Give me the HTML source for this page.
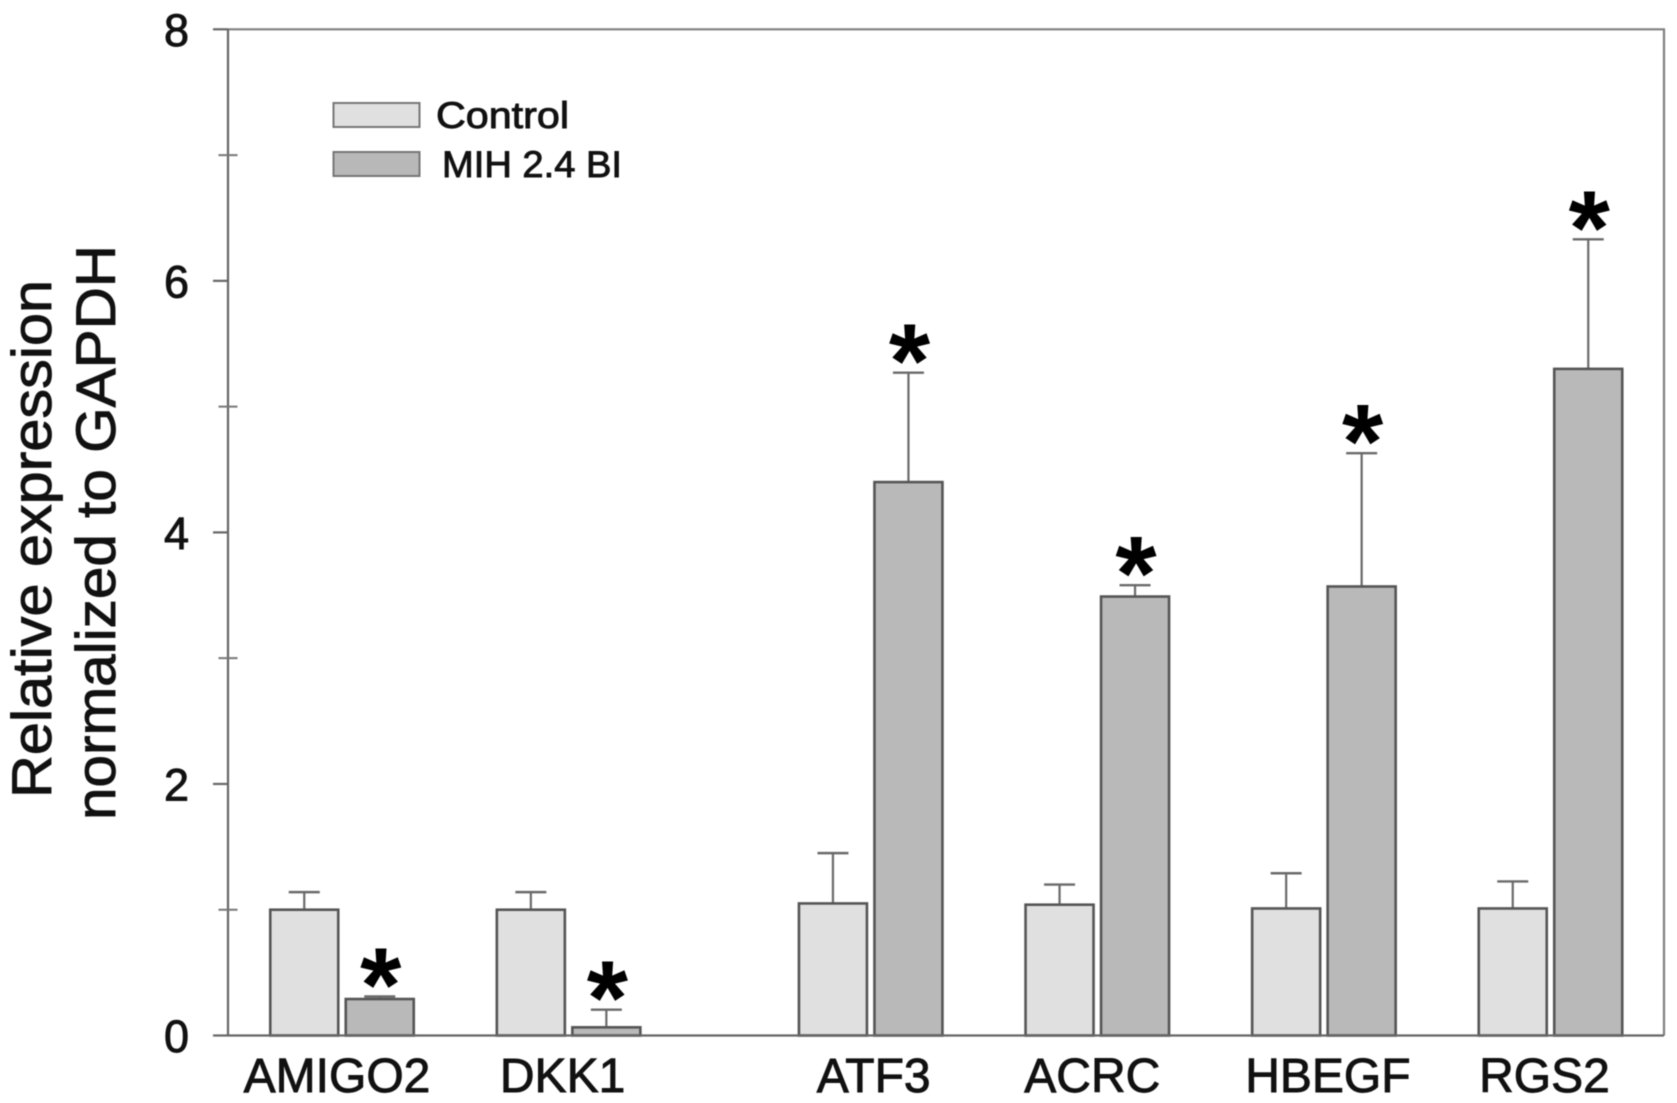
<!DOCTYPE html>
<html lang="en">
<head>
<meta charset="utf-8">
<title>Relative expression normalized to GAPDH</title>
<style>
html,body{margin:0;padding:0;background:#fff;width:1677px;height:1103px;overflow:hidden}
svg{display:block;filter:blur(0.6px)}
text{font-family:"Liberation Sans",Arial,sans-serif;fill:#111;stroke:#111;stroke-width:0.9px}
</style>
</head>
<body>
<svg id="chart" xmlns="http://www.w3.org/2000/svg" width="1677" height="1103" viewBox="0 0 1677 1103">
  <rect x="0" y="0" width="1677" height="1103" fill="#ffffff"/>
  <g font-size="56">
    <text transform="translate(51,798) rotate(-90)" textLength="518" lengthAdjust="spacingAndGlyphs">Relative expression</text>
    <text transform="translate(115,820) rotate(-90)" textLength="575" lengthAdjust="spacingAndGlyphs">normalized to GAPDH</text>
  </g>
  <g id="bars"></g>
  <g id="axes"></g>
  <g>
    <rect x="333.5" y="103" width="86" height="24" fill="#e0e0e0" stroke="#777" stroke-width="2"/>
    <text x="436" y="128" font-size="37" textLength="133" lengthAdjust="spacingAndGlyphs">Control</text>
    <rect x="333.5" y="152" width="86" height="24" fill="#b8b8b8" stroke="#777" stroke-width="2"/>
    <text x="442" y="177" font-size="37" textLength="180" lengthAdjust="spacingAndGlyphs">MIH 2.4 BI</text>
  </g>
</svg>
<script>
const categories = ['AMIGO2', 'DKK1', 'ATF3', 'ACRC', 'HBEGF', 'RGS2'];
const controlMeans = [1.0, 1.0, 1.05, 1.04, 1.01, 1.01];
const controlErrors = [0.14, 0.14, 0.40, 0.16, 0.28, 0.215];
const treatedMeans = [0.29, 0.065, 4.40, 3.49, 3.57, 5.30];
const treatedErrors = [0.02, 0.14, 0.87, 0.09, 1.06, 1.03];
const majorTicks = [0, 2, 4, 6, 8];
const minorTicks = [1, 3, 5, 7];
const significant = [true, true, true, true, true, true];

const NS = 'http://www.w3.org/2000/svg';
const plot = {left: 228, right: 1664, top: 29.3, bottom: 1035.5};
const yMax = 8;
const barWidth = 68;
const barGap = 7.5;
const firstCenter = 342;
const groupStep = 226.6;
const breakAfter = 1;
const breakExtra = 75.5;
const labelNudge = [-5, -6, 3, -5, 4, -6];

function yScale(v) {
  return plot.bottom - (v / yMax) * (plot.bottom - plot.top);
}
function xCenter(i) {
  return firstCenter + i * groupStep + (i > breakAfter ? breakExtra : 0);
}
function make(tag, parent, props) {
  const el = document.createElementNS(NS, tag);
  Object.keys(props).forEach(function (k) { el.setAttribute(k, props[k]); });
  parent.appendChild(el);
  return el;
}

const barsLayer = document.getElementById('bars');
const axesLayer = document.getElementById('axes');

function drawBar(cx, mean, err, fill, name) {
  const top = yScale(mean);
  const capY = yScale(mean + err);
  const stem = make('line', barsLayer, {x1: cx, x2: cx, y1: top, y2: capY, stroke: '#6a6a6a', 'stroke-width': 2.2});
  
  
  const cap = make('line', barsLayer, {x1: cx - 15.5, x2: cx + 15.5, y1: capY, y2: capY, stroke: '#6a6a6a', 'stroke-width': 2.4});
  
  
  const bar = make('rect', barsLayer, {x: cx - barWidth / 2, y: top, width: barWidth, height: plot.bottom - top, fill: fill, stroke: '#555', 'stroke-width': 2.6});
  
  
}

categories.forEach(function (cat, i) {
  const c = xCenter(i);
  const cxControl = c - (barWidth + barGap) / 2;
  const cxTreated = c + (barWidth + barGap) / 2;
  const key = cat.toLowerCase();
  drawBar(cxControl, controlMeans[i], controlErrors[i], '#e0e0e0', 'bar-control-' + key);
  drawBar(cxTreated, treatedMeans[i], treatedErrors[i], '#b9b9b9', 'bar-mih-' + key);
  if (significant[i]) {
    const star = make('text', barsLayer, {x: cxTreated + 1, y: yScale(treatedMeans[i] + treatedErrors[i]) + 25, 'text-anchor': 'middle', 'font-size': 106, 'font-weight': 'bold', style: 'fill:#000;stroke:none'});
    
    
    star.textContent = '*';
  }
  const label = make('text', axesLayer, {x: c + labelNudge[i], y: 1092, 'text-anchor': 'middle', 'font-size': 48});
  
  
  label.textContent = cat;
});

const frame = make('path', axesLayer, {d: 'M' + plot.left + ' ' + plot.top + 'H' + plot.right + 'V' + plot.bottom, fill: 'none', stroke: '#808080', 'stroke-width': 2.2});


const yAxis = make('line', axesLayer, {x1: plot.left, x2: plot.left, y1: plot.top, y2: plot.bottom, stroke: '#666', 'stroke-width': 2.2});


const xAxis = make('line', axesLayer, {x1: plot.left, x2: plot.right, y1: plot.bottom, y2: plot.bottom, stroke: '#666', 'stroke-width': 2.2});



majorTicks.forEach(function (v) {
  const y = yScale(v);
  const tick = make('line', axesLayer, {x1: plot.left - 15, x2: plot.left, y1: y, y2: y, stroke: '#666', 'stroke-width': 2.2});
  
  
  const label = make('text', axesLayer, {x: 189, y: y + 16.5, 'text-anchor': 'end', 'font-size': 45});
  
  
  label.textContent = String(v);
});
minorTicks.forEach(function (v) {
  const y = yScale(v);
  const tick = make('line', axesLayer, {x1: plot.left - 9.5, x2: plot.left + 9.5, y1: y, y2: y, stroke: '#777', 'stroke-width': 2});
  
  
});
</script>
</body>
</html>
